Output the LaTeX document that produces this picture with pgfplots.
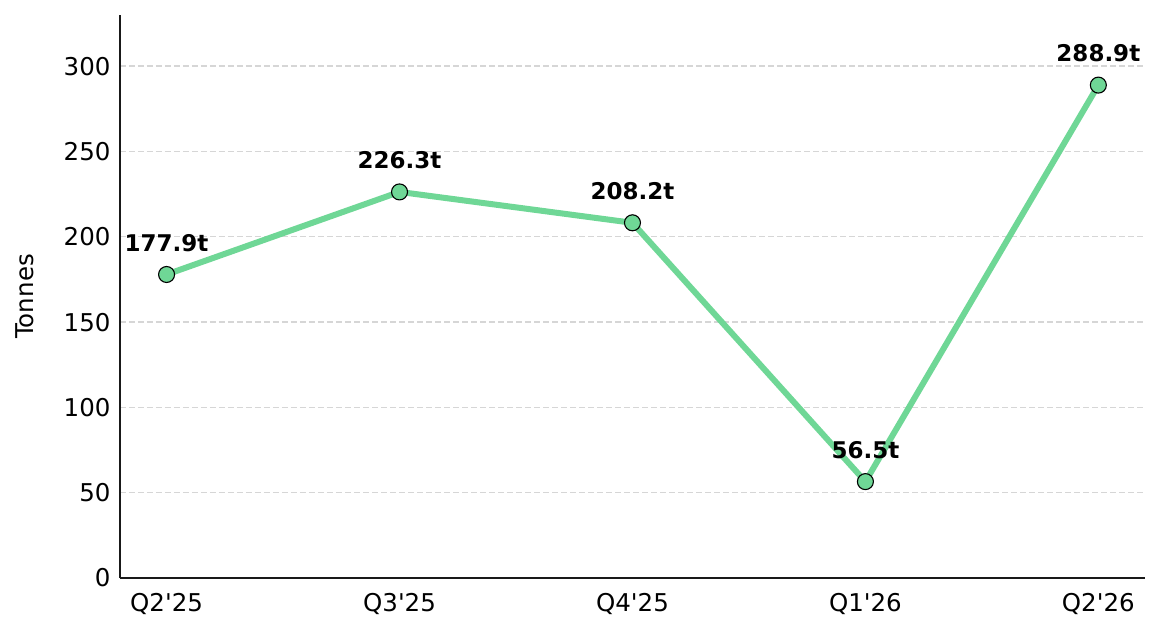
\documentclass[border=0pt]{standalone}
\usepackage{pgfplots}
\pgfplotsset{compat=1.18}
\usepackage{fontspec}
\setmainfont{DejaVu Sans}
\definecolor{lgreen}{HTML}{6FD796}
\definecolor{gridc}{HTML}{D6D6D6}
\begin{document}
\begin{tikzpicture}
\path[use as bounding box] (-120pt,-57pt) rectangle (1040pt,578pt);
\begin{axis}[
  at={(0pt,0pt)}, anchor=south west,
  scale only axis, width=1025pt, height=563pt,
  xmin=-0.2, xmax=4.2, ymin=0, ymax=330,
  axis x line*=bottom, axis y line*=left,
  axis line style={line width=1.4pt, -, black!90},
  xtick={0,1,2,3,4},
  xticklabels={Q2\textquotesingle25,Q3\textquotesingle25,Q4\textquotesingle25,Q1\textquotesingle26,Q2\textquotesingle26},
  ytick={0,50,100,150,200,250,300},
  major tick length=0pt,
  ymajorgrids, grid style={gridc, line width=1.4pt, dash pattern=on 6pt off 3pt},
  tick label style={font=\fontsize{24.5}{28}\selectfont},
  /pgf/number format/assume math mode=true,
  yticklabel style={xshift=-6pt},
  xticklabel style={yshift=-12pt},
  ylabel={Tonnes},
  every axis y label/.style={at={([xshift=-95pt]axis description cs:0,0.5)}, rotate=90, anchor=center, font=\fontsize{24.5}{28}\selectfont},
  clip=false,
]
\addplot[lgreen, line width=6pt, mark=*, mark size=8pt,
  mark options={fill=lgreen, draw=black, line width=1.1pt},
  nodes near coords={\textbf{\pgfmathprintnumber[fixed,precision=1,fixed zerofill]{\pgfplotspointmeta}t}},
  nodes near coords style={font=\fontsize{23}{27}\selectfont, text=black, anchor=south, yshift=19pt},
  point meta=explicit symbolic]
  table[meta=m] {
x y m
0 177.9 177.9
1 226.3 226.3
2 208.2 208.2
3 56.5 56.5
4 288.9 288.9
};
\end{axis}
\end{tikzpicture}
\end{document}
